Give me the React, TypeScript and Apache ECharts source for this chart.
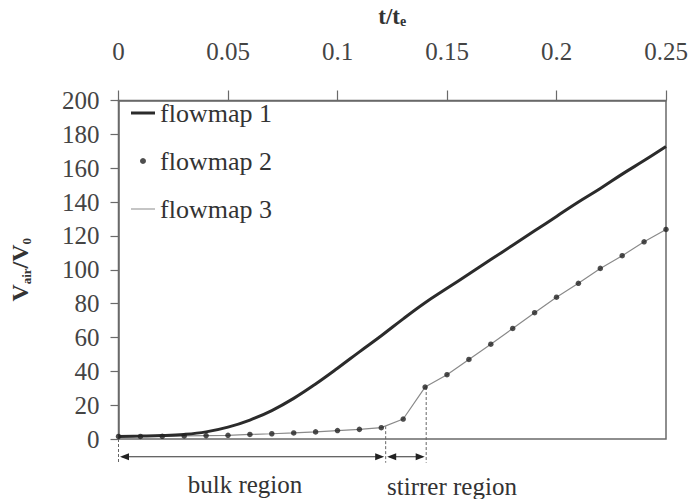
import React, { useEffect, useRef } from 'react';
import * as echarts from 'echarts';

const tValues = [0, 0.01, 0.02, 0.03, 0.04, 0.05, 0.06, 0.07, 0.08, 0.09, 0.1, 0.11, 0.12, 0.13, 0.14, 0.15, 0.16, 0.17, 0.18, 0.19, 0.2, 0.21, 0.22, 0.23, 0.24, 0.25];
const flowmap1 = [1.5, 1.7, 2.0, 2.7, 4.2, 7.0, 11.2, 16.8, 24, 32.5, 41.8, 51.5, 61, 71, 80.5, 89, 97.5, 106, 114.5, 123, 131.5, 140, 148, 156.5, 164.5, 172.8];
const flowmap2 = [1.5, 1.5, 1.6, 1.8, 2, 2.2, 2.7, 3.1, 3.6, 4.2, 5, 5.7, 6.7, 11.8, 30.7, 38, 47, 56, 65.3, 74.6, 83.8, 92, 100.8, 108.3, 116.5, 123.8];
const flowmap3 = [1.5, 1.5, 1.6, 1.8, 2, 2.2, 2.7, 3.1, 3.6, 4.2, 5, 5.7, 6.7, 11.8, 30.7, 38, 47, 56, 65.3, 74.6, 83.8, 92, 100.8, 108.3, 116.5, 123.8];

// region arrows [start t, end t]
const regionArrows = [[0, 0.122], [0.122, 0.1405]];
// dashed boundaries [t, top value]
const regionBoundaries = [[0, 0], [0.122, 7.6], [0.1405, 30.7]];
const regionLabels = ['bulk region', 'stirrer region'];
const seriesNames = ['flowmap 1', 'flowmap 2', 'flowmap 3'];

const arrowLevel = -10.5;
const dashBottom = -14;

const SERIF = '"Liberation Serif", "Times New Roman", serif';

export default function App() {
  const ref = useRef<HTMLDivElement>(null);
  useEffect(() => {
    if (!ref.current) return;
    const chart = echarts.init(ref.current, undefined, { renderer: 'svg' });
    const pair = (arr: number[]) => tValues.map((t, i) => [t, arr[i]]);
    const ink = '#2b2b2b';
    const thin = '#8a8a8a';
    const axisColor = '#6a6a6a';
    chart.setOption({
      animation: false,
      backgroundColor: '#ffffff',
      grid: {
        left: 111, right: 25, top: 93, bottom: 60,
        show: true, borderColor: axisColor, borderWidth: 1.5, backgroundColor: 'transparent',
      },
      legend: {
        orient: 'vertical', left: 126, top: 95,
        itemWidth: 24, itemHeight: 6, itemGap: 22,
        textStyle: { fontFamily: SERIF, fontSize: 26, color: '#333' },
        data: [
          { name: seriesNames[0], icon: 'path://M0,0H24V3H0Z', itemStyle: { color: ink, borderWidth: 0 } },
          { name: seriesNames[1] },
          { name: seriesNames[2], icon: 'path://M0,0H24V1H0Z', itemStyle: { color: thin, borderWidth: 0 } },
        ],
      },
      xAxis: {
        type: 'value', position: 'top', min: 0, max: 0.25, interval: 0.05,
        name: '{m|t/t}{s|e}', nameLocation: 'middle', nameGap: 72,
        nameTextStyle: {
          rich: {
            m: { fontFamily: SERIF, fontSize: 23, fontWeight: 'bold', color: '#333', lineHeight: 24 },
            s: { fontFamily: SERIF, fontSize: 14, fontWeight: 'bold', color: '#333', lineHeight: 14, verticalAlign: 'bottom' },
          },
        },
        axisLine: { show: true, onZero: false, lineStyle: { color: axisColor, width: 1.5 } },
        axisTick: { show: true, inside: false, length: 10, lineStyle: { color: axisColor, width: 1.2 } },
        axisLabel: { fontFamily: SERIF, fontSize: 25, color: '#444', margin: 37 },
        splitLine: { show: false },
      },
      yAxis: {
        type: 'value', min: 0, max: 200, interval: 20,
        name: '{m|V}{s|air}{m|/V}{s|0}', nameLocation: 'middle', nameGap: 86, nameRotate: 90,
        nameTextStyle: {
          rich: {
            m: { fontFamily: SERIF, fontSize: 24, fontWeight: 'bold', color: '#333', lineHeight: 25 },
            s: { fontFamily: SERIF, fontSize: 13, fontWeight: 'bold', color: '#333', lineHeight: 13, verticalAlign: 'bottom' },
          },
        },
        axisLine: { show: true, onZero: false, lineStyle: { color: axisColor, width: 1.5 } },
        axisTick: { show: true, inside: false, length: 8, lineStyle: { color: axisColor, width: 1.2 } },
        axisLabel: { fontFamily: SERIF, fontSize: 25, color: '#444', margin: 19 },
        splitLine: { show: false },
      },
      series: [
        {
          name: 'flowmap 1', type: 'line', data: pair(flowmap1), smooth: 0.4,
          symbol: 'none', lineStyle: { color: ink, width: 3 }, itemStyle: { color: ink }, z: 3,
        },
        {
          name: 'flowmap 2', type: 'scatter', data: pair(flowmap2),
          symbol: 'circle', symbolSize: 5.5, itemStyle: { color: '#222' }, z: 4,
        },
        {
          name: 'flowmap 3', type: 'line', data: pair(flowmap3),
          symbol: 'none', lineStyle: { color: thin, width: 1.2 }, itemStyle: { color: thin }, z: 2,
        },
        {
          type: 'custom', name: 'regions', clip: false, silent: true, z: 5,
          data: regionArrows,
          encode: { x: [0, 1] },
          renderItem: (params: any, api: any) => {
            const s = api.value(0);
            const e = api.value(1);
            const p1 = api.coord([s, arrowLevel]);
            const p2 = api.coord([e, arrowLevel]);
            const x1 = p1[0] + 1.5;
            const x2 = p2[0] - 1.5;
            const y = p1[1];
            const ah = 9;
            const aw = 3.5;
            return {
              type: 'group',
              children: [
                { type: 'line', shape: { x1: x1 + 2, y1: y, x2: x2 - 2, y2: y }, style: { stroke: '#333', lineWidth: 1.2 } },
                { type: 'polygon', shape: { points: [[x1, y], [x1 + ah, y - aw], [x1 + ah, y + aw]] }, style: { fill: '#222' } },
                { type: 'polygon', shape: { points: [[x2, y], [x2 - ah, y - aw], [x2 - ah, y + aw]] }, style: { fill: '#222' } },
              ],
            };
          },
        },
        {
          type: 'custom', name: 'boundaries', clip: false, silent: true, z: 1,
          data: regionBoundaries,
          renderItem: (params: any, api: any) => {
            const t = api.value(0);
            const top = api.coord([t, api.value(1)]);
            const bot = api.coord([t, dashBottom]);
            return {
              type: 'line',
              shape: { x1: top[0], y1: top[1], x2: bot[0], y2: bot[1] },
              style: { stroke: '#666', lineWidth: 1, lineDash: [3, 2] },
            };
          },
        },
      ],
      graphic: [
        {
          type: 'text', x: 245, y: 484,
          style: { text: regionLabels[0], fontFamily: SERIF, fontSize: 25, fill: '#333', align: 'center', verticalAlign: 'middle' },
        },
        {
          type: 'text', x: 452, y: 486,
          style: { text: regionLabels[1], fontFamily: SERIF, fontSize: 25, fill: '#333', align: 'center', verticalAlign: 'middle' },
        },
      ],
    });
    return () => chart.dispose();
  }, []);
  return <div ref={ref} style={{ width: 691, height: 499, position: 'absolute', left: 0, top: 0 }} />;
}
